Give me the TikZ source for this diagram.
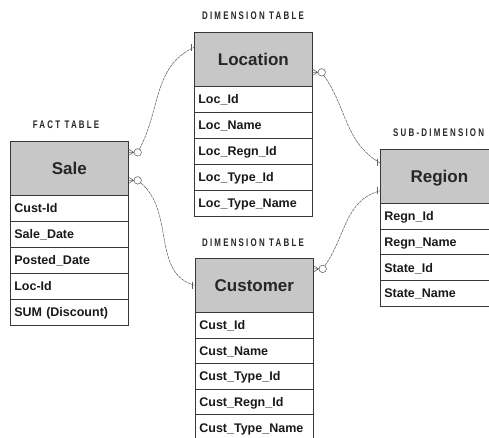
\documentclass[tikz,border=0pt]{standalone}
\usepackage{fontspec}
\setmainfont{Liberation Sans}
\newfontfamily\capsfont[LetterSpace=28]{Liberation Sans}
\usetikzlibrary{calc}

\definecolor{edgeink}{gray}{0.22}
\definecolor{hdrgray}{gray}{0.78}
\definecolor{wireink}{gray}{0.38}

\tikzset{
  hdr/.style={draw=edgeink, line width=0.7pt, fill=hdrgray, anchor=north west,
    minimum width=118pt, minimum height=54pt, inner sep=0pt,
    text height=12.2pt, text depth=0pt, text=black!85,
    font=\bfseries\fontsize{17}{17}\selectfont},
  rowbox/.style={draw=edgeink, line width=0.7pt, anchor=north west,
    text width=110pt, inner xsep=4pt, inner ysep=0pt, align=left,
    text height=9pt, text depth=0pt, text=black!90,
    font=\bfseries\fontsize{12.5}{12.5}\selectfont},
  caption/.style={inner sep=0pt, text=black!85,
    font=\capsfont\bfseries\fontsize{11}{11}\selectfont},
  wire/.style={draw=wireink, line width=0.55pt},
  link/.style={wire, dash pattern=on 3pt off 0.8pt},
  ring/.style={circle, draw=wireink, line width=0.55pt, fill=white,
    minimum size=7.5pt, inner sep=0pt},
}

% entity table: name, left x, top y, title, row height, rows
\newcommand\ertable[6]{%
  \node[hdr] (#1) at (#2,#3) {#4};
  \foreach \r [count=\i from 0] in {#6} {
    \node[rowbox, minimum height=#5pt] (#1-\i) at (#2,#3+54+\i*#5) {\r};
  }%
}

% optional-many end: circle name, point on the east edge of a box
\newcommand\zeromany[2]{%
  \draw[wire] (#2) -- ++(5,0) (#2) ++(0,-3) -- ++(5,3) -- ++(-5,3);
  \node[ring] (#1) at ($(#2)+(9,0)$) {};
}

% exactly-one end: coordinate name, point on the west edge of a box
\newcommand\onemark[2]{%
  \coordinate (#1) at (#2);
  \draw[wire] ($(#1)+(-3,-3.5)$) -- ++(0,7);
}

\begin{document}
\begin{tikzpicture}[x=1pt,y=-1pt]
\useasboundingbox[fill=white] (0,0) rectangle (489,437);

% captions
\node[caption] (capLoc) at (253,16) {\scalebox{0.72}[1]{DIMENSION TABLE}};
\node[caption] (capFact) at (66,125) {\scalebox{0.72}[1]{FACT TABLE}};
\node[caption] (capCust) at (253,243) {\scalebox{0.72}[1]{DIMENSION TABLE}};
\node[caption, anchor=west] (capSub) at (393,133) {\scalebox{0.72}[1]{SUB-DIMENSION}};

% tables
\ertable{sale}{10}{141}{Sale}{26}{Cust-Id,Sale\_Date,Posted\_Date,Loc-Id,SUM (Discount)}
\ertable{loc}{194}{32}{Location}{26}{Loc\_Id,Loc\_Name,Loc\_Regn\_Id,Loc\_Type\_Id,Loc\_Type\_Name}
\ertable{cust}{195}{258}{Customer}{25.6}{Cust\_Id,Cust\_Name,Cust\_Type\_Id,Cust\_Regn\_Id,Cust\_Type\_Name}
\ertable{regn}{380}{149}{Region}{25.7}{Regn\_Id,Regn\_Name,State\_Id,State\_Name}

% relationship ends
\zeromany{o1}{[yshift=16pt]sale.east}
\zeromany{o2}{[yshift=-12pt]sale.east}
\zeromany{o3}{[yshift=-13pt]loc.east}
\zeromany{o4}{[yshift=16.5pt]cust.east}
\onemark{t1}{[yshift=12pt]loc.west}
\onemark{t2}{[yshift=0pt]cust.west}
\onemark{t3}{[yshift=13.5pt]regn.west}
\onemark{t4}{[yshift=-14.5pt]regn.west}

% relationship lines
\draw[link] (o1) to[out=62, in=205] (t1);
\draw[link] (o2) to[out=-40, in=165] (t2);
\draw[link] (o3) to[out=-55, in=150] (t3);
\draw[link] (o4) to[out=55, in=195] (t4);
\end{tikzpicture}
\end{document}
